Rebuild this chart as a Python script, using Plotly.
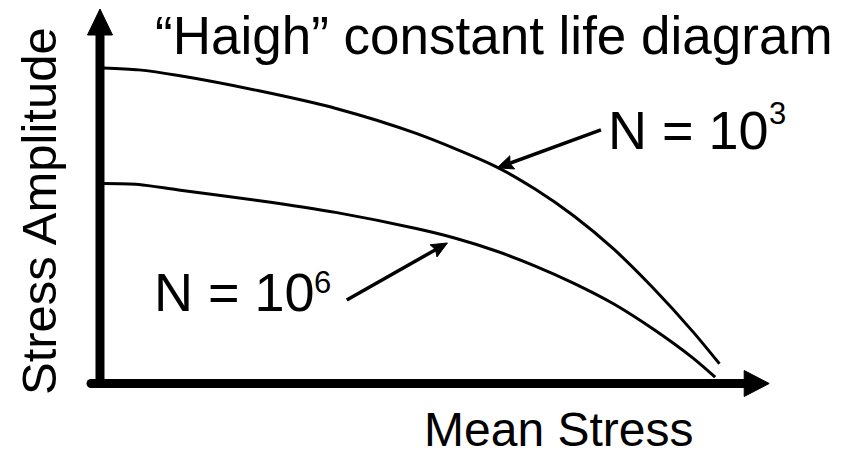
import math
import plotly.graph_objects as go

# ---- data (mean stress in % of ultimate strength, amplitude in % of the N=10^3 intercept) ----
mean_stress_n1e3 = [0, 5.8, 12.3, 25.2, 38.1, 51.0, 63.9, 70.3, 76.7, 83.2, 89.6, 96.1, 100.4]
amplitude_n1e3 = [100, 99.4, 97.6, 92.8, 87.0, 79.1, 68.6, 61.4, 52.7, 42.1, 29.7, 15.7, 5.5]

mean_stress_n1e6 = [0, 5.8, 12.3, 25.2, 38.1, 51.0, 57.4, 63.9, 70.3, 76.7, 83.2, 89.6, 96.1, 99.7]
amplitude_n1e6 = [63.1, 62.8, 61.0, 57.7, 53.8, 48.7, 45.6, 41.6, 36.8, 31.2, 24.6, 16.6, 7.3, 1.2]

series_labels = ["N = 10", "N = 10"]
series_exponents = ["3", "6"]
title_text = "\u201cHaigh\u201d constant life diagram"
x_label = "Mean Stress"
y_label = "Stress Amplitude"

# pointer arrows (data units): (tail, tip)
pointer_n1e3 = ((81.1, 80.2), (64.2, 68.1))
pointer_n1e6 = ((39.7, 25.9), (56.1, 44.1))
# axis arrows (data units)
y_axis_arrow = ((-0.49, -1.6), (-0.49, 118.85))
x_axis_arrow = ((-1.95, -0.8), (108.5, -0.8))

# ---- layout constants ----
W, H = 844, 451
FONT = "Arial, Liberation Sans, sans-serif"
X0_PX, Y0_PX, SX, SY = 103.0, 381.0, 6.14, 3.13
X_RANGE = [(0 - X0_PX) / SX, (W - X0_PX) / SX]
Y_RANGE = [(Y0_PX - H) / SY, (Y0_PX - 0) / SY]


def to_px(p):
    return (X0_PX + p[0] * SX, Y0_PX - p[1] * SY)


def to_d(p):
    return ((p[0] - X0_PX) / SX, (Y0_PX - p[1]) / SY)


def arrow_shapes(tail, tip, width, head_len, head_half, notch=0.15):
    (tx, ty), (hx, hy) = to_px(tail), to_px(tip)
    dx, dy = hx - tx, hy - ty
    L = math.hypot(dx, dy)
    ux, uy = dx / L, dy / L
    nx, ny = -uy, ux
    bx, by = hx - ux * head_len, hy - uy * head_len
    line_end = to_d((bx + ux * head_len * 0.3, by + uy * head_len * 0.3))
    pts = [
        (hx, hy),
        (bx + nx * head_half, by + ny * head_half),
        (bx + ux * head_len * notch, by + uy * head_len * notch),
        (bx - nx * head_half, by - ny * head_half),
    ]
    pts_d = [to_d(p) for p in pts]
    path = "M " + " L ".join(f"{x:.4f},{y:.4f}" for x, y in pts_d) + " Z"
    return [
        dict(type="line", xref="x", yref="y", x0=tail[0], y0=tail[1],
             x1=line_end[0], y1=line_end[1], line=dict(color="black", width=width)),
        dict(type="path", xref="x", yref="y", path=path, fillcolor="black",
             line=dict(color="black", width=1)),
    ]


def px(x):
    return x / W


def py(y):
    return 1 - y / H


fig = go.Figure()
for xs, ys in [(mean_stress_n1e3, amplitude_n1e3), (mean_stress_n1e6, amplitude_n1e6)]:
    fig.add_trace(go.Scatter(
        x=xs, y=ys, mode="lines",
        line=dict(color="black", width=3, shape="spline", smoothing=0.8),
        hoverinfo="skip", showlegend=False,
    ))

shapes = []
shapes += arrow_shapes(*y_axis_arrow, width=9, head_len=26, head_half=12.5, notch=0.0)
shapes += arrow_shapes(*x_axis_arrow, width=9, head_len=25, head_half=13, notch=0.0)
shapes += arrow_shapes(*pointer_n1e3, width=3.5, head_len=16, head_half=7)
shapes += arrow_shapes(*pointer_n1e6, width=3.5, head_len=16, head_half=7)
# rounded end of the horizontal axis
cx, cy = to_px(x_axis_arrow[0])
c0, c1 = to_d((cx - 4.5, cy + 4.5)), to_d((cx + 4.5, cy - 4.5))
shapes.append(dict(type="circle", xref="x", yref="y", x0=c0[0], y0=c0[1], x1=c1[0], y1=c1[1],
                   fillcolor="black", line=dict(width=0)))


def text_ann(x, y, text, size, xanchor="left", angle=0):
    return dict(x=px(x), y=py(y), xref="paper", yref="paper", xanchor=xanchor, yanchor="middle",
                text=text, textangle=angle, showarrow=False,
                font=dict(family=FONT, size=size, color="black"))


ann = [
    text_ann(153, 35.5, title_text, 53),
    text_ann(558, 429.5, x_label, 48, xanchor="center"),
    text_ann(39, 211, y_label, 49, xanchor="center", angle=-90),
    text_ann(606, 130, series_labels[0], 54),
    text_ann(767, 114, series_exponents[0], 31),
    text_ann(151.5, 292, series_labels[1], 54),
    text_ann(312, 282, series_exponents[1], 31),
]

fig.update_layout(
    width=W, height=H,
    margin=dict(l=0, r=0, t=0, b=0),
    paper_bgcolor="white", plot_bgcolor="white",
    xaxis=dict(range=X_RANGE, visible=False, fixedrange=True),
    yaxis=dict(range=Y_RANGE, visible=False, fixedrange=True),
    annotations=ann,
    shapes=shapes,
    showlegend=False,
)

fig.write_html("out.html", config={"displayModeBar": False},
               post_script="document.body.style.margin='0';document.body.style.overflow='hidden';")
